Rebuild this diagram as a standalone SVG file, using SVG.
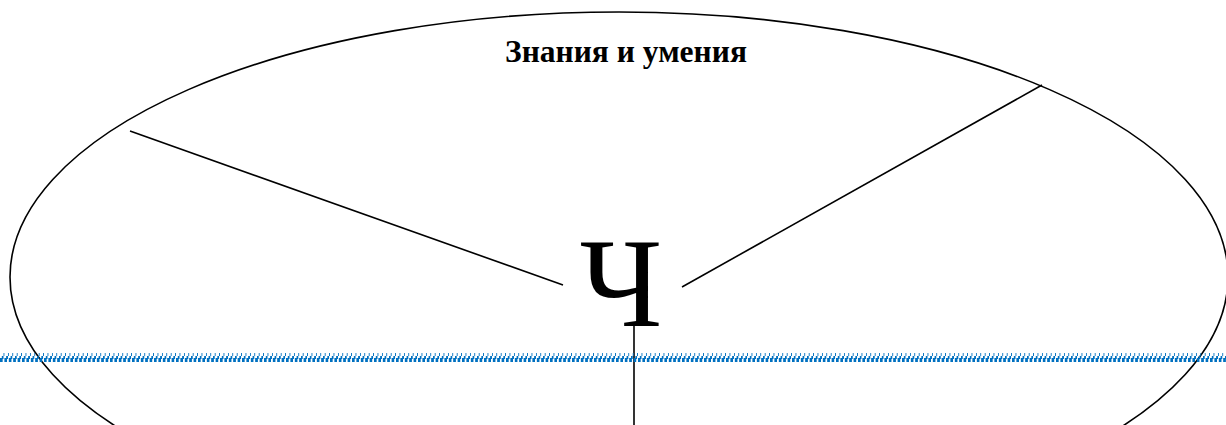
<svg xmlns="http://www.w3.org/2000/svg" width="1226" height="425" viewBox="0 0 1226 425">
<style>
.ln{stroke:#000;stroke-width:1.6;fill:none}
.t{font-family:"Liberation Serif","Times New Roman",serif;fill:#000}
.wb{fill:#0070C0;shape-rendering:crispEdges}
</style>
<defs>
<pattern id="wv" x="0" y="353" width="4.4" height="9" patternUnits="userSpaceOnUse">
<rect class="wb" x="0" y="5" width="2.2" height="4"/>
<rect class="wb" x="2" y="3" width="1.2" height="2.5"/>
<rect class="wb" x="3.1" y="0" width="1.3" height="3.2"/>
</pattern>
</defs>
<rect width="1226" height="425" fill="#fff"/>
<g id="ellipse">
<ellipse cx="619" cy="277" rx="609" ry="265" class="ln"/>
</g>
<g id="connectors">
<line x1="130" y1="131" x2="563" y2="285" class="ln"/>
<line x1="682" y1="287" x2="1042" y2="85" class="ln"/>
<line x1="634" y1="326" x2="634" y2="425" class="ln"/>
</g>
<g id="title">
<text x="626" y="62" text-anchor="middle" class="t" font-size="31.5" font-weight="bold">Знания и умения</text>
</g>
<g id="center">
<text x="621" y="326" text-anchor="middle" class="t" font-size="127">Ч</text>
</g>
<rect id="wavy" x="0" y="353" width="1226" height="9" fill="url(#wv)"/>
</svg>
